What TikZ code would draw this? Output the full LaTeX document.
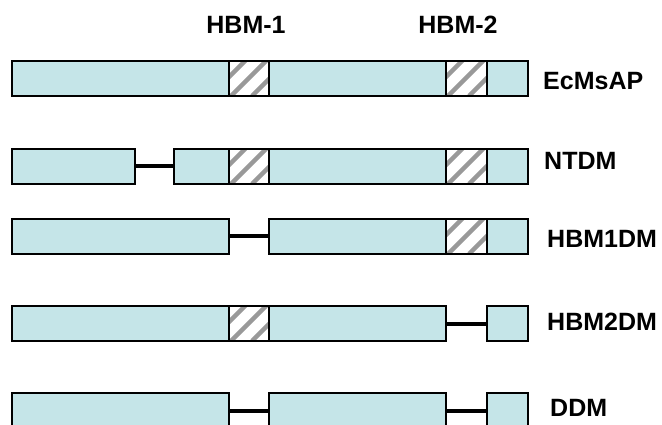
\documentclass[tikz,border=0pt]{standalone}
\usepackage{fontspec}
\setmainfont{Liberation Sans}
\definecolor{seg}{HTML}{C5E5E8}
\definecolor{stripe}{HTML}{999999}
\begin{document}
\begin{tikzpicture}[x=1pt,y=-1pt,
  box/.style={draw=black,line width=2pt,fill=seg,inner sep=0pt,outer sep=0pt,
    minimum height=35pt,anchor=north west},
  hatch/.style={box,fill=white,path picture={
    \foreach \i in {-40,-19,2,23,44}
      \draw[stripe,line width=4.5pt] ([xshift=\i pt]path picture bounding box.south west) -- ++(60pt,60pt);}},
  link/.style={draw=black,line width=4pt},
  lbl/.style={font=\bfseries\fontsize{25}{30}\selectfont,inner sep=0pt,anchor=base west}]
\useasboundingbox (0,0) rectangle (662,425);
% titles
\node[lbl,anchor=base] (h1) at (246,33.3) {HBM-1};
\node[lbl,anchor=base] (h2) at (458,33.3) {HBM-2};
% row 1
\node[box,minimum width=217pt] (a1) at (12,61) {};
\node[hatch,minimum width=40pt] (a2) at (229,61) {};
\node[box,minimum width=177pt] (a3) at (269,61) {};
\node[hatch,minimum width=41pt] (a4) at (446,61) {};
\node[box,minimum width=41pt] (a5) at (487,61) {};
\node[lbl] (la) at (543,89.3) {EcMsAP};
% row 2
\node[box,minimum width=123pt] (b1) at (12,149) {};
\node[box,minimum width=55pt] (b2) at (174,149) {};
\node[hatch,minimum width=40pt] (b3) at (229,149) {};
\node[box,minimum width=177pt] (b4) at (269,149) {};
\node[hatch,minimum width=41pt] (b5) at (446,149) {};
\node[box,minimum width=41pt] (b6) at (487,149) {};
\draw[link] (b1.east) -- (b2.west);
\node[lbl] (lb) at (544,170) {NTDM};
% row 3
\node[box,minimum width=217pt] (c1) at (12,219) {};
\node[box,minimum width=177pt] (c2) at (269,219) {};
\node[hatch,minimum width=41pt] (c3) at (446,219) {};
\node[box,minimum width=41pt] (c4) at (487,219) {};
\draw[link] (c1.east) -- (c2.west);
\node[lbl] (lc) at (547,247.3) {HBM1DM};
% row 4
\node[box,minimum width=217pt] (d1) at (12,306) {};
\node[hatch,minimum width=40pt] (d2) at (229,306) {};
\node[box,minimum width=177pt] (d3) at (269,306) {};
\node[box,minimum width=41pt] (d4) at (487,306) {};
\draw[link] (d3.east) -- (d4.west);
\node[lbl] (ld) at (547,330.7) {HBM2DM};
% row 5
\node[box,minimum width=217pt] (e1) at (12,393) {};
\node[box,minimum width=177pt] (e2) at (269,393) {};
\node[box,minimum width=41pt] (e3) at (487,393) {};
\draw[link] (e1.east) -- (e2.west);
\draw[link] (e2.east) -- (e3.west);
\node[lbl] (le) at (550,416) {DDM};
\end{tikzpicture}
\end{document}
